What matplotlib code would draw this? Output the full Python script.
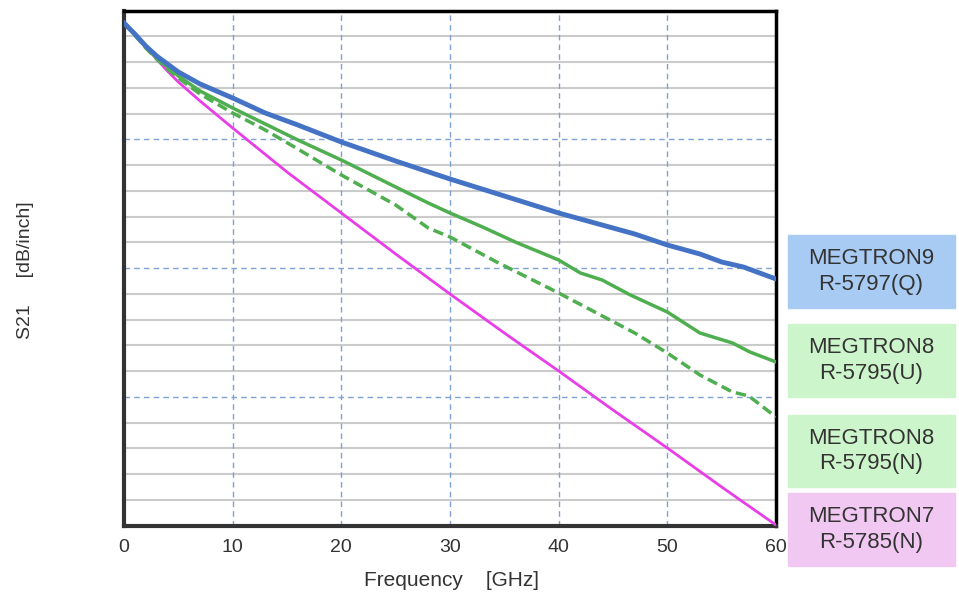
import matplotlib
matplotlib.use('Agg')
import matplotlib.pyplot as plt
from matplotlib.patches import Rectangle

plt.rcParams['font.family'] = ['Liberation Sans', 'DejaVu Sans']

# S21 [dB/inch] vs frequency [GHz]
f_m9q = [0, 1, 2, 3, 4, 5, 7, 10, 13, 16, 20, 25, 30, 35, 40, 45, 47, 50, 53, 55, 57, 60]
m9_q = [-0.0485, -0.0913, -0.1379, -0.1767, -0.2078, -0.2388, -0.2854, -0.3398,
        -0.3981, -0.4447, -0.5107, -0.5845, -0.6544, -0.7204, -0.7864, -0.8447,
        -0.8680, -0.9107, -0.9456, -0.9767, -0.9961, -1.0427]

f_m8u = [0, 1, 2, 3, 4, 5, 7, 10, 13, 16, 20, 25, 28, 30, 33, 36, 40, 42, 44, 46.6,
         50, 53, 56, 57.6, 60]
m8_u = [-0.0485, -0.0951, -0.1417, -0.1845, -0.2194, -0.2544, -0.3126, -0.3786,
        -0.4408, -0.5029, -0.5806, -0.6854, -0.7476, -0.7864, -0.8408, -0.8990,
        -0.9689, -1.0194, -1.0466, -1.1049, -1.1709, -1.2524, -1.2913, -1.3262, -1.3650]

f_m8n = [0, 1, 2, 3, 4, 5, 7, 10, 13, 16, 20, 25, 28, 30, 34.3, 40, 43.5, 47, 50,
         53, 56, 57.5, 60]
m8_n = [-0.0485, -0.0951, -0.1456, -0.1883, -0.2272, -0.2621, -0.3243, -0.3981,
        -0.4641, -0.5379, -0.6388, -0.7553, -0.8447, -0.8796, -0.9767, -1.0971,
        -1.1748, -1.2524, -1.3301, -1.4155, -1.4816, -1.4971, -1.5786]

f_m7n = [0, 1, 2, 3, 4, 5, 7, 10, 15, 20, 25, 30, 35, 40, 45, 50, 55, 60]
m7_n = [-0.0485, -0.0951, -0.1417, -0.1883, -0.2350, -0.2777, -0.3515, -0.4563,
        -0.6272, -0.7864, -0.9456, -1.1010, -1.2524, -1.4000, -1.5515, -1.6990,
        -1.8505, -1.9981]

labels = ['MEGTRON9\nR-5797(Q)', 'MEGTRON8\nR-5795(U)', 'MEGTRON8\nR-5795(N)', 'MEGTRON7\nR-5785(N)']
box_colors = ['#a8cbf3', '#cdf5cb', '#cdf5cb', '#f1c8f1']
xticks = [0, 10, 20, 30, 40, 50, 60]

fig = plt.figure(figsize=(9.59, 5.99), dpi=100)
ax = fig.add_axes([124 / 959, 73.5 / 599, 652 / 959, 515 / 599])

# grid: gray every 0.1, blue dashed every 0.5
for i in range(1, 20):
    y = -0.1 * i
    if i % 5 == 0:
        ax.axhline(y, color='#7fa2d6', lw=1.0, ls=(0, (4, 3)), zorder=1)
    else:
        ax.axhline(y, color='#cbcbcb', lw=1.5, zorder=1)
for x in xticks[1:-1]:
    ax.axvline(x, color='#7fa2d6', lw=1.0, ls=(0, (4, 3)), zorder=1)

ax.plot(f_m7n, m7_n, color='#e83ee8', lw=2.0, zorder=3)
ax.plot(f_m8n, m8_n, color='#4fae4f', lw=2.5, ls=(0, (3, 1.5)), zorder=3)
ax.plot(f_m8u, m8_u, color='#4fae4f', lw=2.5, zorder=3)
ax.plot(f_m9q, m9_q, color='#4472c4', lw=3.5, zorder=4, solid_joinstyle='round')

ax.set_xlim(0, 60)
ax.set_ylim(-2.0, 0)
ax.set_xticks(xticks)
ax.set_yticks([])
ax.tick_params(axis='x', length=0, pad=10, labelsize=14, labelcolor='#333333')

for s in ['top', 'right']:
    ax.spines[s].set_color('black')
    ax.spines[s].set_linewidth(2.5)
for s in ['left', 'bottom']:
    ax.spines[s].set_color('#333333')
    ax.spines[s].set_linewidth(3)

fig.text(452 / 959, 1 - 580 / 599, 'Frequency    [GHz]', ha='center', va='center',
         fontsize=15, color='#333333')
fig.text(25 / 959, 1 - 270 / 599, 'S21     [dB/inch]', ha='center', va='center',
         rotation=90, fontsize=14, color='#333333')

# legend boxes
boxes = [(235, 308), (324, 397), (415, 487), (493, 566)]
for (top, bot), lab, c in zip(boxes, labels, box_colors):
    fig.patches.append(Rectangle((788 / 959, 1 - bot / 599), 167 / 959, (bot - top) / 599,
                                 transform=fig.transFigure, color=c, zorder=0))
    fig.text(871 / 959, 1 - (top + bot) / 2 / 599, lab, ha='center', va='center',
             fontsize=16, color='#333333', linespacing=1.3)

fig.savefig('out.png', dpi=100)
